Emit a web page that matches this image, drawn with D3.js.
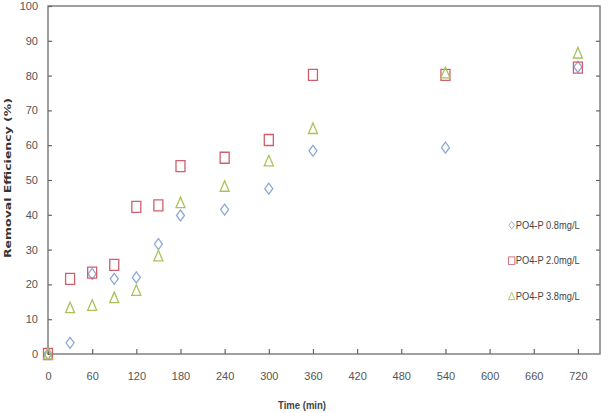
<!DOCTYPE html>
<html lang="en">
<head>
	<meta charset="UTF-8">
	<title>Removal Efficiency</title>
	<script src="https://cdn.jsdelivr.net/npm/d3@7/dist/d3.min.js"></script>
	<style>
		body { margin: 0; background: #fff; }
		svg { display: block; }
		.tick text { font-family: "Liberation Sans Narrow", "Arial Narrow", sans-serif; font-size: 11px; fill: #555; }
		.legend text { font-family: "Liberation Sans Narrow", "Arial Narrow", sans-serif; font-size: 10px; fill: #444; }
	</style>
</head>
<body>
<svg width="609" height="413"></svg>
<script>
	// time (min)
	const times = [0, 30, 60, 90, 120, 150, 180, 240, 300, 360, 540, 720];
	// removal efficiency (%)
	const low = [0, 3.2, 23, 21.6, 22, 31.6, 39.8, 41.5, 47.5, 58.4, 59.3, 82.5];
	const mid = [0, 21.6, 23.4, 25.6, 42.3, 42.7, 54, 56.4, 61.5, 80.2, 80.2, 82.3];
	const high = [0, 13.3, 14, 16.2, 18.3, 28.2, 43.5, 48.2, 55.5, 64.8, 80.8, 86.5];
	const seriesNames = ["PO4-P 0.8mg/L", "PO4-P 2.0mg/L", "PO4-P 3.8mg/L"];
	const xTicks = [0, 60, 120, 180, 240, 300, 360, 420, 480, 540, 600, 660, 720];
	const yTicks = [0, 10, 20, 30, 40, 50, 60, 70, 80, 90, 100];

	const margin = { top: 6, right: 9, bottom: 59, left: 48 };
	const width = 609 - margin.left - margin.right;
	const height = 413 - margin.top - margin.bottom;

	const svg = d3.select("svg");
	const g = svg.append("g").attr("transform", `translate(${margin.left},${margin.top})`);

	const x = d3.scaleLinear().domain([0, 750]).range([0, width]);
	const y = d3.scaleLinear().domain([0, 100]).range([height, 0]);

	// marker shapes, a bit taller than wide
	const shapes = {
		diamond: "M0,-5.5L4,0L0,5.5L-4,0Z",
		square: "M-4.5,-5.5H4.5V5.5H-4.5Z",
		triangle: "M0,-5.5L4.5,5L-4.5,5Z"
	};
	const series = [
		{ name: seriesNames[0], values: low, shape: "diamond", color: "#8fa9d6" },
		{ name: seriesNames[1], values: mid, shape: "square", color: "#cf5f6e" },
		{ name: seriesNames[2], values: high, shape: "triangle", color: "#a9c25a" }
	];

	// frame
	g.append("rect")
		.attr("width", width).attr("height", height)
		.attr("fill", "none").attr("stroke", "#808080").attr("stroke-width", 1.5);

	// axes, ticks pointing in
	const xAxis = g.append("g").attr("transform", `translate(0,${height})`)
		.call(d3.axisBottom(x).tickValues(xTicks).tickSizeInner(-5).tickSizeOuter(0).tickPadding(18));
	const yAxis = g.append("g")
		.call(d3.axisLeft(y).tickValues(yTicks).tickSizeInner(-4).tickSizeOuter(0).tickPadding(10));
	const yAxisR = g.append("g").attr("transform", `translate(${width},0)`)
		.call(d3.axisRight(y).tickValues(yTicks.slice(1, -1)).tickSizeInner(-4).tickSizeOuter(0).tickFormat(""));
	[xAxis, yAxis, yAxisR].forEach(a => {
		a.select(".domain").remove();
		a.selectAll(".tick line").attr("stroke", "#666").attr("stroke-width", 1.2);
	});

	// points
	series.forEach(s => {
		g.append("g").selectAll("path")
			.data(s.values.map((v, i) => ({ t: times[i], v: v })))
			.enter()
			.append("path")
			.attr("d", shapes[s.shape])
			.attr("transform", d => `translate(${x(d.t)},${y(d.v)})`)
			.attr("fill", "none")
			.attr("stroke", s.color)
			.attr("stroke-width", 1.3);
	});

	// legend
	const legend = g.append("g").attr("class", "legend")
		.attr("transform", `translate(${x(630)},${y(37)})`)
		.selectAll("g")
		.data(series)
		.enter()
		.append("g")
		.attr("transform", (d, i) => `translate(0,${i * 35.5})`);
	legend.append("path")
		.attr("d", d => shapes[d.shape])
		.attr("transform", "scale(0.7)")
		.attr("fill", "none")
		.attr("stroke", d => d.color)
		.attr("stroke-width", 1.3);
	legend.append("text")
		.attr("x", 4).attr("dy", "0.35em")
		.attr("textLength", 64).attr("lengthAdjust", "spacingAndGlyphs")
		.text(d => d.name);

	// axis titles
	svg.append("text")
		.attr("x", 302).attr("y", 409)
		.attr("text-anchor", "middle")
		.attr("textLength", 48).attr("lengthAdjust", "spacingAndGlyphs")
		.style("font-family", "'Liberation Sans Narrow', 'Arial Narrow', sans-serif")
		.style("font-size", "11px").style("font-weight", "bold").style("fill", "#444")
		.text("Time (min)");
	svg.append("text")
		.attr("transform", "translate(11,178) rotate(-90)")
		.attr("text-anchor", "middle")
		.attr("textLength", 160).attr("lengthAdjust", "spacingAndGlyphs")
		.style("font-family", "'DejaVu Sans', sans-serif")
		.style("font-size", "9px").style("font-weight", "bold").style("fill", "#333")
		.text("Removal Efficiency  (%)");
</script>
</body>
</html>
